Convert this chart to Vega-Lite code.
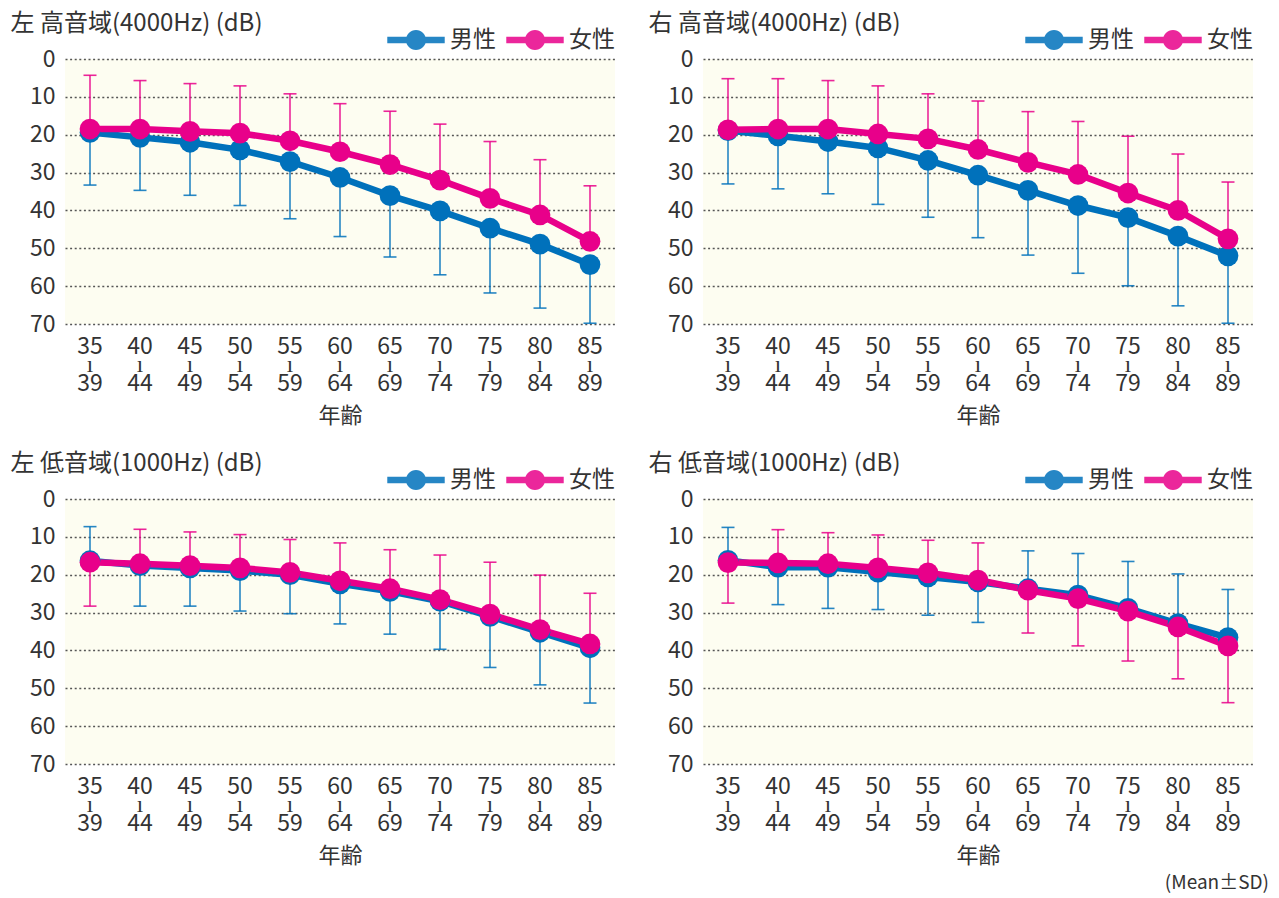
{
  "$schema": "https://vega.github.io/schema/vega-lite/v6.json",
  "padding": {"left": 10, "top": 11, "right": 5, "bottom": 4},
  "background": "#ffffff",
  "datasets": {
    "d": [
      {"p":1,"s":"男性","a":"35-39","m":19.4,"e":33.3},{"p":1,"s":"男性","a":"40-44","m":20.7,"e":34.7},{"p":1,"s":"男性","a":"45-49","m":22.0,"e":36.0},{"p":1,"s":"男性","a":"50-54","m":24.0,"e":38.7},{"p":1,"s":"男性","a":"55-59","m":27.1,"e":42.2},{"p":1,"s":"男性","a":"60-64","m":31.3,"e":46.9},{"p":1,"s":"男性","a":"65-69","m":36.1,"e":52.3},{"p":1,"s":"男性","a":"70-74","m":40.1,"e":57.0},{"p":1,"s":"男性","a":"75-79","m":44.7,"e":61.8},{"p":1,"s":"男性","a":"80-84","m":48.9,"e":65.8},{"p":1,"s":"男性","a":"85-89","m":54.3,"e":69.8},
      {"p":1,"s":"女性","a":"35-39","m":18.5,"e":4.3},{"p":1,"s":"女性","a":"40-44","m":18.5,"e":5.7},{"p":1,"s":"女性","a":"45-49","m":19.1,"e":6.5},{"p":1,"s":"女性","a":"50-54","m":19.6,"e":7.1},{"p":1,"s":"女性","a":"55-59","m":21.6,"e":9.2},{"p":1,"s":"女性","a":"60-64","m":24.5,"e":11.8},{"p":1,"s":"女性","a":"65-69","m":27.9,"e":13.8},{"p":1,"s":"女性","a":"70-74","m":32.0,"e":17.2},{"p":1,"s":"女性","a":"75-79","m":36.8,"e":21.8},{"p":1,"s":"女性","a":"80-84","m":41.2,"e":26.6},{"p":1,"s":"女性","a":"85-89","m":48.2,"e":33.5},
      {"p":2,"s":"男性","a":"35-39","m":18.9,"e":33.0},{"p":2,"s":"男性","a":"40-44","m":20.3,"e":34.3},{"p":2,"s":"男性","a":"45-49","m":21.8,"e":35.6},{"p":2,"s":"男性","a":"50-54","m":23.5,"e":38.4},{"p":2,"s":"男性","a":"55-59","m":26.8,"e":41.8},{"p":2,"s":"男性","a":"60-64","m":30.7,"e":47.2},{"p":2,"s":"男性","a":"65-69","m":34.7,"e":51.8},{"p":2,"s":"男性","a":"70-74","m":38.7,"e":56.6},{"p":2,"s":"男性","a":"75-79","m":41.9,"e":59.9},{"p":2,"s":"男性","a":"80-84","m":46.8,"e":65.2},{"p":2,"s":"男性","a":"85-89","m":52.0,"e":69.8},
      {"p":2,"s":"女性","a":"35-39","m":18.7,"e":5.2},{"p":2,"s":"女性","a":"40-44","m":18.5,"e":5.2},{"p":2,"s":"女性","a":"45-49","m":18.5,"e":5.7},{"p":2,"s":"女性","a":"50-54","m":19.8,"e":7.1},{"p":2,"s":"女性","a":"55-59","m":21.1,"e":9.2},{"p":2,"s":"女性","a":"60-64","m":23.9,"e":11.1},{"p":2,"s":"女性","a":"65-69","m":27.3,"e":13.9},{"p":2,"s":"女性","a":"70-74","m":30.5,"e":16.5},{"p":2,"s":"女性","a":"75-79","m":35.4,"e":20.4},{"p":2,"s":"女性","a":"80-84","m":40.0,"e":25.1},{"p":2,"s":"女性","a":"85-89","m":47.5,"e":32.5},
      {"p":3,"s":"男性","a":"35-39","m":16.3,"e":7.3},{"p":3,"s":"男性","a":"40-44","m":17.6,"e":28.3},{"p":3,"s":"男性","a":"45-49","m":18.2,"e":28.3},{"p":3,"s":"男性","a":"50-54","m":18.9,"e":29.6},{"p":3,"s":"男性","a":"55-59","m":20.0,"e":30.3},{"p":3,"s":"男性","a":"60-64","m":22.4,"e":33.0},{"p":3,"s":"男性","a":"65-69","m":24.4,"e":35.7},{"p":3,"s":"男性","a":"70-74","m":27.0,"e":39.7},{"p":3,"s":"男性","a":"75-79","m":31.0,"e":44.5},{"p":3,"s":"男性","a":"80-84","m":35.2,"e":49.1},{"p":3,"s":"男性","a":"85-89","m":39.3,"e":53.9},
      {"p":3,"s":"女性","a":"35-39","m":16.7,"e":28.3},{"p":3,"s":"女性","a":"40-44","m":17.1,"e":8.0},{"p":3,"s":"女性","a":"45-49","m":17.6,"e":8.7},{"p":3,"s":"女性","a":"50-54","m":18.2,"e":9.4},{"p":3,"s":"女性","a":"55-59","m":19.4,"e":10.7},{"p":3,"s":"女性","a":"60-64","m":21.6,"e":11.6},{"p":3,"s":"女性","a":"65-69","m":23.7,"e":13.4},{"p":3,"s":"女性","a":"70-74","m":26.6,"e":14.8},{"p":3,"s":"女性","a":"75-79","m":30.4,"e":16.7},{"p":3,"s":"女性","a":"80-84","m":34.5,"e":20.1},{"p":3,"s":"女性","a":"85-89","m":38.3,"e":24.9},
      {"p":4,"s":"男性","a":"35-39","m":16.2,"e":7.5},{"p":4,"s":"男性","a":"40-44","m":18.0,"e":27.9},{"p":4,"s":"男性","a":"45-49","m":18.0,"e":28.9},{"p":4,"s":"男性","a":"50-54","m":19.3,"e":29.2},{"p":4,"s":"男性","a":"55-59","m":20.6,"e":30.7},{"p":4,"s":"男性","a":"60-64","m":21.9,"e":32.6},{"p":4,"s":"男性","a":"65-69","m":23.7,"e":13.7},{"p":4,"s":"男性","a":"70-74","m":25.4,"e":14.4},{"p":4,"s":"男性","a":"75-79","m":28.9,"e":16.5},{"p":4,"s":"男性","a":"80-84","m":32.9,"e":19.8},{"p":4,"s":"男性","a":"85-89","m":36.6,"e":23.9},
      {"p":4,"s":"女性","a":"35-39","m":16.8,"e":27.5},{"p":4,"s":"女性","a":"40-44","m":16.9,"e":8.1},{"p":4,"s":"女性","a":"45-49","m":17.1,"e":8.9},{"p":4,"s":"女性","a":"50-54","m":18.2,"e":9.5},{"p":4,"s":"女性","a":"55-59","m":19.5,"e":10.9},{"p":4,"s":"女性","a":"60-64","m":21.4,"e":11.6},{"p":4,"s":"女性","a":"65-69","m":24.1,"e":35.4},{"p":4,"s":"女性","a":"70-74","m":26.3,"e":38.8},{"p":4,"s":"女性","a":"75-79","m":29.6,"e":42.8},{"p":4,"s":"女性","a":"80-84","m":33.8,"e":47.5},{"p":4,"s":"女性","a":"85-89","m":38.8,"e":53.8}
    ]
  },
  "title": {"text": "(Mean±SD)", "orient": "bottom", "anchor": "end", "fontSize": 19, "fontWeight": "normal", "color": "#333333", "offset": 8, "dx": 16},
  "columns": 2,
  "bounds": "flush",
  "spacing": {"row": 175, "column": 88},
  "resolve": {"legend": {"color": "independent"}},
  "concat": [
    {
      "width": 550, "height": 265,
      "data": {"name": "d"},
      "transform": [{"filter": "datum.p == 1"}],
      "encoding": {
        "x": {"field": "a", "type": "ordinal", "title": "年齢"},
        "color": {"field": "s", "type": "nominal", "scale": {"domain": ["男性", "女性"], "range": ["#0071bb", "#e8008a"]}}
      },
      "layer": [
        {"mark": {"type": "rule", "strokeWidth": 1.6, "opacity": 0.85}, "encoding": {"y": {"field": "m", "type": "quantitative", "scale": {"domain": [0, 70], "reverse": true, "nice": false}, "title": "左 高音域(4000Hz) (dB)"}, "y2": {"field": "e"}}},
        {"mark": {"type": "tick", "size": 13, "thickness": 1.6, "opacity": 0.85}, "encoding": {"y": {"field": "e", "type": "quantitative"}}},
        {"mark": {"type": "line", "strokeWidth": 6.5}, "encoding": {"y": {"field": "m", "type": "quantitative"}}},
        {"mark": {"type": "point", "filled": true, "size": 430, "opacity": 1}, "encoding": {"y": {"field": "m", "type": "quantitative"}}}
      ]
    },
    {
      "width": 550, "height": 265,
      "data": {"name": "d"},
      "transform": [{"filter": "datum.p == 2"}],
      "encoding": {
        "x": {"field": "a", "type": "ordinal", "title": "年齢"},
        "color": {"field": "s", "type": "nominal", "scale": {"domain": ["男性", "女性"], "range": ["#0071bb", "#e8008a"]}}
      },
      "layer": [
        {"mark": {"type": "rule", "strokeWidth": 1.6, "opacity": 0.85}, "encoding": {"y": {"field": "m", "type": "quantitative", "scale": {"domain": [0, 70], "reverse": true, "nice": false}, "title": "右 高音域(4000Hz) (dB)"}, "y2": {"field": "e"}}},
        {"mark": {"type": "tick", "size": 13, "thickness": 1.6, "opacity": 0.85}, "encoding": {"y": {"field": "e", "type": "quantitative"}}},
        {"mark": {"type": "line", "strokeWidth": 6.5}, "encoding": {"y": {"field": "m", "type": "quantitative"}}},
        {"mark": {"type": "point", "filled": true, "size": 430, "opacity": 1}, "encoding": {"y": {"field": "m", "type": "quantitative"}}}
      ]
    },
    {
      "width": 550, "height": 265,
      "data": {"name": "d"},
      "transform": [{"filter": "datum.p == 3"}],
      "encoding": {
        "x": {"field": "a", "type": "ordinal", "title": "年齢"},
        "color": {"field": "s", "type": "nominal", "scale": {"domain": ["男性", "女性"], "range": ["#0071bb", "#e8008a"]}}
      },
      "layer": [
        {"mark": {"type": "rule", "strokeWidth": 1.6, "opacity": 0.85}, "encoding": {"y": {"field": "m", "type": "quantitative", "scale": {"domain": [0, 70], "reverse": true, "nice": false}, "title": "左 低音域(1000Hz) (dB)"}, "y2": {"field": "e"}}},
        {"mark": {"type": "tick", "size": 13, "thickness": 1.6, "opacity": 0.85}, "encoding": {"y": {"field": "e", "type": "quantitative"}}},
        {"mark": {"type": "line", "strokeWidth": 6.5}, "encoding": {"y": {"field": "m", "type": "quantitative"}}},
        {"mark": {"type": "point", "filled": true, "size": 430, "opacity": 1}, "encoding": {"y": {"field": "m", "type": "quantitative"}}}
      ]
    },
    {
      "width": 550, "height": 265,
      "data": {"name": "d"},
      "transform": [{"filter": "datum.p == 4"}],
      "encoding": {
        "x": {"field": "a", "type": "ordinal", "title": "年齢"},
        "color": {"field": "s", "type": "nominal", "scale": {"domain": ["男性", "女性"], "range": ["#0071bb", "#e8008a"]}}
      },
      "layer": [
        {"mark": {"type": "rule", "strokeWidth": 1.6, "opacity": 0.85}, "encoding": {"y": {"field": "m", "type": "quantitative", "scale": {"domain": [0, 70], "reverse": true, "nice": false}, "title": "右 低音域(1000Hz) (dB)"}, "y2": {"field": "e"}}},
        {"mark": {"type": "tick", "size": 13, "thickness": 1.6, "opacity": 0.85}, "encoding": {"y": {"field": "e", "type": "quantitative"}}},
        {"mark": {"type": "line", "strokeWidth": 6.5}, "encoding": {"y": {"field": "m", "type": "quantitative"}}},
        {"mark": {"type": "point", "filled": true, "size": 430, "opacity": 1}, "encoding": {"y": {"field": "m", "type": "quantitative"}}}
      ]
    }
  ],
  "config": {
    "font": "Noto Sans CJK JP",
    "view": {"fill": "#fdfdf1", "stroke": null},
    "scale": {"pointPadding": 0.47},
    "axisX": {
      "labelAngle": 0, "labelFontSize": 23, "labelColor": "#333333", "labelLineHeight": 18.5, "labelBaseline": "top", "labelPadding": 11,
      "labelExpr": "[split(datum.label, '-')[0], 'ı', split(datum.label, '-')[1]]",
      "domain": false, "ticks": false, "grid": false,
      "titleFontSize": 22, "titleFontWeight": "normal", "titleColor": "#333333", "titlePadding": 10
    },
    "axisY": {
      "labelFontSize": 23, "labelColor": "#333333", "labelPadding": 10,
      "domain": false, "ticks": false, "grid": true, "gridColor": "#555555", "gridDash": [2, 2.6], "gridWidth": 1.6,
      "values": [0, 10, 20, 30, 40, 50, 60, 70],
      "titleAngle": 0, "titleAlign": "left", "titleBaseline": "top", "titleX": -55, "titleY": -48,
      "titleFontSize": 24, "titleFontWeight": "normal", "titleColor": "#333333"
    },
    "legend": {
      "orient": "none", "legendX": 322, "legendY": -48, "direction": "horizontal", "title": null,
      "labelFontSize": 23, "labelColor": "#333333", "labelOffset": 5, "columnPadding": 10,
      "symbolType": "M-1,-0.11H1V0.11H-1Z M-0.35,0A0.35,0.35 0 1,1 0.35,0A0.35,0.35 0 1,1 -0.35,0Z",
      "symbolSize": 3300, "symbolStrokeWidth": 0
    }
  }
}
